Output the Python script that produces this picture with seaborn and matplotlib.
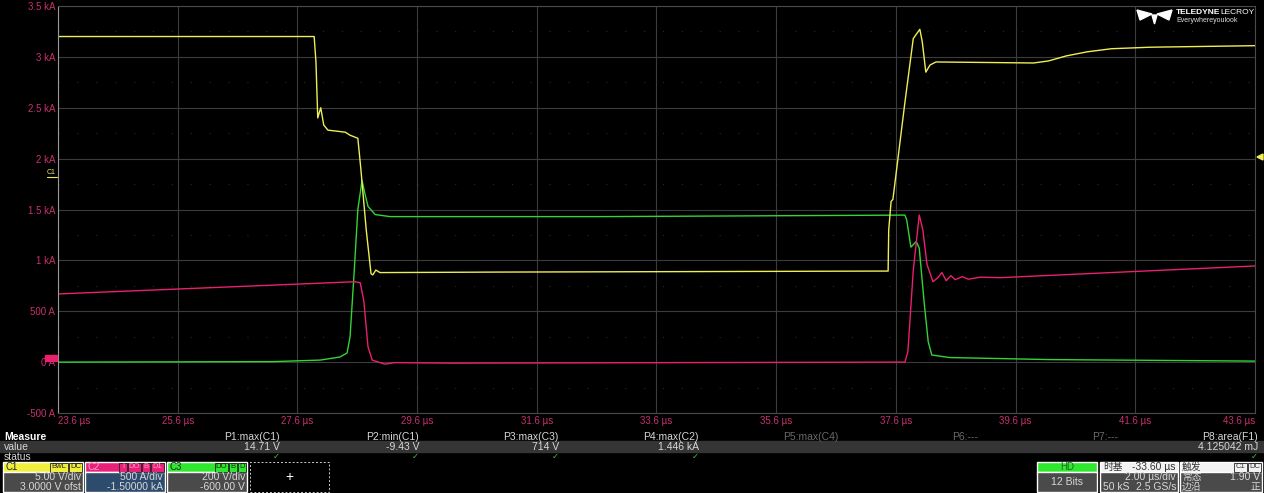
#%%
import numpy as np
import pandas as pd
import matplotlib
matplotlib.use("Agg")
import matplotlib.pyplot as plt
from matplotlib.patches import Rectangle, Polygon
import seaborn as sns

#%% traces (time in us)
c1_t = [23.6, 27.88, 27.91, 27.94, 27.99, 28.04, 28.11, 28.40, 28.48, 28.61, 28.66, 28.75, 28.83, 28.86,
        28.91, 28.98, 30.98, 34.33, 37.47, 37.48, 37.52, 37.55, 37.75, 37.89, 37.95, 38.00, 38.04, 38.10,
        38.17, 38.27, 39.9, 40.15, 40.45, 40.8, 41.2, 41.85, 43.6]
c1_v = [14.0, 14.0, 11.5, 6.0, 7.0, 5.3, 4.8, 4.6, 4.3, 4.0, 1.0, -5.0, -9.3, -9.43,
        -8.95, -9.2, -9.15, -9.1, -9.05, -5.0, -2.2, -2.0, 7.5, 13.8, 14.3, 14.71, 13.5, 10.5,
        11.2, 11.5, 11.4, 11.6, 12.1, 12.5, 12.8, 12.95, 13.1]

c2_t = [23.6, 28.56, 28.65, 28.71, 28.78, 28.85, 29.06, 29.23, 30.15, 37.75, 37.80, 37.89, 37.99, 38.05,
        38.12, 38.22, 38.30, 38.37, 38.44, 38.52, 38.59, 38.71, 38.81, 39.01, 39.34, 43.6]
c2_a = [670, 790, 780, 600, 150, 20, -20, -5, -10, 0, 100, 900, 1446, 1300,
        960, 790, 830, 880, 800, 850, 810, 840, 815, 835, 830, 945]

c3_t = [23.6, 27.2, 27.98, 28.31, 28.43, 28.48, 28.55, 28.61, 28.68, 28.73, 28.78, 28.90, 29.15, 32.66,
        37.75, 37.78, 37.85, 37.94, 37.99, 38.07, 38.14, 38.20, 38.50, 40.17, 43.6]
c3_v = [0, 2, 8, 20, 36, 100, 360, 600, 714, 660, 612, 580, 572, 572,
        578, 560, 452, 474, 448, 240, 80, 28, 18, 10, 4]

# channel settings (per div, offset)
c1_div, c1_ofst = 5.0, 3.0
c2_div, c2_ofst = 500.0, -1500.0
c3_div, c3_ofst = 200.0, -600.0

xticks = [23.6, 25.6, 27.6, 29.6, 31.6, 33.6, 35.6, 37.6, 39.6, 41.6, 43.6]
yticks = [-500, 0, 500, 1000, 1500, 2000, 2500, 3000, 3500]
ytick_labels = ["-500 A", "0 A", "500 A", "1 kA", "1.5 kA", "2 kA", "2.5 kA", "3 kA", "3.5 kA"]

meas_names = ["P1:max(C1)", "P2:min(C1)", "P3:max(C3)", "P4:max(C2)", "P5:max(C4)", "P6:---", "P7:---", "P8:area(F1)"]
meas_values = ["14.71 V", "-9.43 V", "714 V", "1.446 kA", "", "", "", "4.125042 mJ"]
meas_ok = [True, True, True, True, False, False, False, True]

#%% helpers
def to_screen(v, div, ofst):
    # convert channel units to the C2 (amp) grid shown on screen
    return (np.asarray(v, float) + ofst) / div * c2_div - c2_ofst

W, H = 1264, 493
def fx(x): return x / W
def fy(y): return 1 - y / H

sns.set_theme(style="dark")
plt.rcParams['font.family'] = ['Liberation Sans', 'DejaVu Sans', 'Noto Sans CJK SC']

fig = plt.figure(figsize=(W / 100, H / 100), dpi=100, facecolor="black")
ax = fig.add_axes([fx(58), fy(413), (1255 - 58) / W, (413 - 6) / H])
ax.set_facecolor("black")

df = pd.concat([
    pd.DataFrame({"t": c3_t, "y": to_screen(c3_v, c3_div, c3_ofst), "ch": "C3"}),
    pd.DataFrame({"t": c2_t, "y": c2_a, "ch": "C2"}),
    pd.DataFrame({"t": c1_t, "y": to_screen(c1_v, c1_div, c1_ofst), "ch": "C1"}),
])
pal = {"C1": "#eeee55", "C2": "#e8206e", "C3": "#33d433"}
for ch in ["C3", "C2", "C1"]:
    sns.lineplot(data=df[df.ch == ch], x="t", y="y", color=pal[ch], lw=1.0,
                 sort=False, estimator=None, ax=ax, legend=False)

ax.set_xlim(23.6, 43.6)
ax.set_ylim(-500, 3500)
ax.set_xticks(xticks)
ax.set_xticklabels([f"{t:.1f} µs" for t in xticks])
ax.set_yticks(yticks)
ax.set_yticklabels(ytick_labels)
ax.set_xlabel("")
ax.set_ylabel("")
ax.grid(True, color="#3c3c3c", lw=0.8)
for yv in np.arange(-250, 3500, 500):
    ax.axhline(yv, color="#2a2a2a", lw=0.8, ls=(0, (1, 16)), zorder=0)
ax.tick_params(length=0, labelsize=7, colors="#c8306e", pad=2)
xl = ax.get_xticklabels()
xl[0].set_ha("left")
xl[-1].set_ha("right")
for s in ax.spines.values():
    s.set_visible(True)
    s.set_color("#4a4a4a")
    s.set_linewidth(0.8)
ax.spines["left"].set_color("#9a9a9a")

# channel markers
fig.text(fx(47), fy(173), "C1", color="#eeee55", fontsize=5, va="center")
fig.lines.append(plt.Line2D([fx(47), fx(57)], [fy(177), fy(177)], color="#eeee55", lw=0.8, transform=fig.transFigure))
fig.patches.append(Rectangle((fx(45), fy(361)), 12 / W, 6 / H, color="#e8206e", transform=fig.transFigure))
fig.patches.append(Polygon([[fx(1257), fy(157)], [fx(1263), fy(154)], [fx(1263), fy(160)]],
                           closed=True, color="#eeee55", transform=fig.transFigure))

# logo
fig.patches.append(Polygon([[fx(1137), fy(10)], [fx(1152), fy(14)], [fx(1140), fy(20)]], color="white", transform=fig.transFigure))
fig.patches.append(Polygon([[fx(1172), fy(10)], [fx(1157), fy(14)], [fx(1169), fy(20)]], color="white", transform=fig.transFigure))
fig.patches.append(Polygon([[fx(1152), fy(15)], [fx(1157), fy(15)], [fx(1154.5), fy(24)]], color="white", transform=fig.transFigure))
fig.text(fx(1176), fy(13), "TELEDYNE", color="white", fontsize=6, fontweight="bold", va="center")
fig.text(fx(1220), fy(13), "LECROY", color="white", fontsize=6, va="center")
fig.text(fx(1176), fy(20), "Everywhereyoulook", color="#dddddd", fontsize=5, va="center")

#%% measure table
txt = "#d8d8d8"
fig.patches.append(Rectangle((0, fy(452)), 1, 11 / H, color="#353535", transform=fig.transFigure))
fig.text(fx(4), fy(437), "Measure", color="white", fontsize=7.5, fontweight="bold", va="center")
fig.text(fx(4), fy(447), "value", color=txt, fontsize=7.5, va="center")
fig.text(fx(4), fy(457), "status", color=txt, fontsize=7.5, va="center")
col_right = [280, 419, 559, 699, 838, 978, 1118, 1258]
for xr, name, val, ok in zip(col_right, meas_names, meas_values, meas_ok):
    c = txt if ok else "#6a6a6a"
    fig.text(fx(xr), fy(437), name, color=c, fontsize=7.5, ha="right", va="center")
    fig.text(fx(xr), fy(447), val, color=txt, fontsize=7.5, ha="right", va="center")
    if ok:
        fig.text(fx(xr), fy(457), "✓", color="#3fbf3f", fontsize=6, ha="right", va="center")

def box(x0, y0, x1, y1, color, **kw):
    fig.patches.append(Rectangle((fx(x0), fy(y1)), (x1 - x0) / W, (y1 - y0) / H,
                                 facecolor=color, transform=fig.transFigure, **kw))

def tags(x_right, y, labels, fc, tc):
    x = x_right
    for lab in reversed(labels):
        w = 5 * len(lab) + 3
        box(x - w, y - 4.5, x, y + 4.5, fc, edgecolor="#222222", lw=0.6)
        fig.text(fx(x - w / 2), fy(y), lab, color=tc, fontsize=5.5, ha="center", va="center")
        x -= w + 1

chans = [(3, "C1", "#f0f03c", "#4a4a4a", "#222222", ["BwL", "DC"], "5.00 V/div", "3.0000 V ofst"),
         (85, "C2", "#e8207a", "#2d4b6d", "#ff9cc4", ["I", "DO", "B", "D1"], "500 A/div", "-1.50000 kA"),
         (167, "C3", "#2ee82e", "#4a4a4a", "#222222", ["DO", "B", "D"], "200 V/div", "-600.00 V")]
for x0, name, hc, bc, tc, tg, l1, l2 in chans:
    box(x0, 462, x0 + 80, 472, hc)
    box(x0, 472, x0 + 80, 492, bc)
    fig.text(fx(x0 + 3), fy(467), name, color=tc, fontsize=7, va="center")
    tags(x0 + 79, 467, tg, hc, tc)
    fig.text(fx(x0 + 78), fy(477), l1, color=txt, fontsize=7.5, ha="right", va="center")
    fig.text(fx(x0 + 78), fy(487), l2, color=txt, fontsize=7.5, ha="right", va="center")
box(250, 462, 329, 492, "black", edgecolor="#cccccc", ls=(0, (2, 2)), lw=0.7)
fig.text(fx(289.5), fy(477), "+", color="white", fontsize=10, ha="center", va="center")

# acquisition / timebase / trigger
box(1037, 462, 1097, 472, "#2ee82e")
box(1037, 472, 1097, 492, "#4a4a4a")
fig.text(fx(1067), fy(467), "HD", color="#226622", fontsize=7, ha="center", va="center")
fig.text(fx(1067), fy(482), "12 Bits", color=txt, fontsize=7.5, ha="center", va="center")

box(1100, 462, 1178, 472, "#f2f2f2")
box(1100, 472, 1178, 492, "#4a4a4a")
fig.text(fx(1103), fy(467), "时基", color="#333333", fontsize=7, va="center")
fig.text(fx(1176), fy(467), "-33.60 µs", color="#333333", fontsize=7.5, ha="right", va="center")
fig.text(fx(1176), fy(477), "2.00 µs/div", color=txt, fontsize=7.5, ha="right", va="center")
fig.text(fx(1103), fy(487), "50 kS", color=txt, fontsize=7.5, va="center")
fig.text(fx(1176), fy(487), "2.5 GS/s", color=txt, fontsize=7.5, ha="right", va="center")

box(1180, 462, 1262, 472, "#f2f2f2")
box(1180, 472, 1262, 492, "#4a4a4a")
fig.text(fx(1182), fy(467), "触发", color="#333333", fontsize=7, va="center")
tags(1261, 467, ["C1", "DC"], "#f2f2f2", "#333333")
fig.text(fx(1182), fy(477), "常态", color=txt, fontsize=7, va="center")
fig.text(fx(1260), fy(477), "1.90 V", color=txt, fontsize=7.5, ha="right", va="center")
fig.text(fx(1182), fy(487), "边沿", color=txt, fontsize=7, va="center")
fig.text(fx(1260), fy(487), "正", color=txt, fontsize=7, ha="right", va="center")

fig.savefig("out.png", dpi=100, facecolor="black")
